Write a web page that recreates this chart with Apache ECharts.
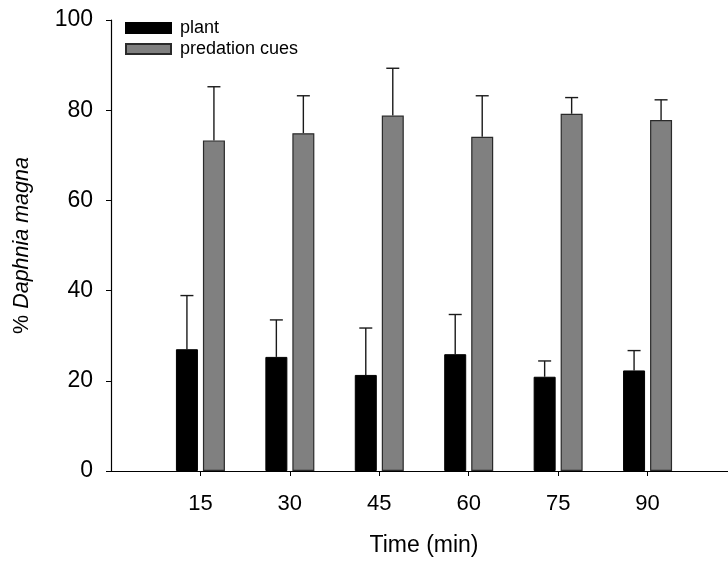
<!DOCTYPE html>
<html>
<head>
<meta charset="utf-8">
<script src="https://cdn.jsdelivr.net/npm/echarts@6/dist/echarts.min.js"></script>
<style>
  html, body { margin: 0; padding: 0; background: #fff; }
  #chart { width: 728px; height: 562px; }
</style>
</head>
<body>
<div id="chart"></div>
<script>
// Sampling times (min)
const times = [15, 30, 45, 60, 75, 90];
// Mean % of Daphnia magna on each side, with standard errors
const plantMean = [27.0, 25.3, 21.3, 25.9, 20.9, 22.3];
const plantErr  = [11.9, 8.2, 10.4, 8.8, 3.5, 4.4];
const cuesMean  = [73.3, 74.9, 78.8, 74.1, 79.2, 77.8];
const cuesErr   = [11.9, 8.3, 10.5, 9.1, 3.6, 4.5];
const yTicks = [0, 20, 40, 60, 80, 100];

const FONT = '"Liberation Sans", Arial, sans-serif';
const BAR_W = 22;
const GAP = 5;
const OFFSET = (BAR_W + GAP) / 2;

// Upper whisker with a cap, centred on each bar
function errorBars(means, errs, dx) {
  return {
    type: 'custom',
    silent: true,
    z: 1,
    data: times.map((t, i) => [t, means[i], errs[i]]),
    renderItem: function (params, api) {
      const x = api.coord([api.value(0), 0])[0] + dx;
      const yTop = api.coord([0, api.value(1)])[1];
      const yHi = api.coord([0, api.value(1) + api.value(2)])[1];
      const style = { stroke: '#1a1a1a', lineWidth: 1.4 };
      return {
        type: 'group',
        children: [
          { type: 'line', shape: { x1: x, y1: yTop, x2: x, y2: yHi }, style: style },
          { type: 'line', shape: { x1: x - 6.5, y1: yHi, x2: x + 6.5, y2: yHi }, style: style }
        ]
      };
    }
  };
}

const chart = echarts.init(document.getElementById('chart'), null, { renderer: 'canvas' });
chart.setOption({
  animation: false,
  backgroundColor: '#fff',
  textStyle: { fontFamily: FONT, color: '#000' },
  grid: { left: 111, right: -9, top: 20, bottom: 91, outerBoundsMode: 'none', containLabel: false },
  legend: {
    orient: 'vertical',
    left: 125,
    top: 19,
    padding: 0,
    icon: 'rect',
    itemWidth: 45,
    itemHeight: 10,
    itemGap: 3,
    textStyle: { fontFamily: FONT, fontSize: 18, color: '#000', padding: [0, 0, 0, 4] },
    data: ['plant', 'predation cues']
  },
  xAxis: {
    type: 'value',
    min: 0,
    max: 105,
    interval: 15,
    name: 'Time (min)',
    nameLocation: 'middle',
    nameGap: 63,
    nameTextStyle: { fontFamily: FONT, fontSize: 23, color: '#000' },
    splitLine: { show: false },
    axisLine: { show: true, onZero: false, lineStyle: { color: '#000', width: 1.2 } },
    axisTick: { show: true, length: 5, lineStyle: { color: '#000' }, customValues: times },
    axisLabel: { customValues: times, margin: 22, fontFamily: FONT, fontSize: 22, color: '#000' }
  },
  yAxis: {
    type: 'value',
    min: 0,
    max: 100,
    interval: 20,
    name: '{n|% }{i|Daphnia magna}',
    nameLocation: 'middle',
    nameRotate: 90,
    nameGap: 78,
    nameTextStyle: {
      rich: {
        n: { fontFamily: FONT, fontSize: 21.5, color: '#000' },
        i: { fontFamily: FONT, fontSize: 21.5, fontStyle: 'italic', color: '#000' }
      }
    },
    splitLine: { show: false },
    axisLine: { show: true, lineStyle: { color: '#000', width: 1.2 } },
    axisTick: { show: true, length: 5, lineStyle: { color: '#000' } },
    axisLabel: { margin: 18, fontFamily: FONT, fontSize: 23, color: '#000',
      formatter: v => yTicks.indexOf(v) >= 0 ? String(v) : '' }
  },
  series: [
    errorBars(plantMean, plantErr, -OFFSET),
    errorBars(cuesMean, cuesErr, OFFSET),
    {
      name: 'plant',
      type: 'bar',
      z: 2,
      barWidth: BAR_W,
      barGap: (GAP / BAR_W * 100).toFixed(1) + '%',
      itemStyle: { color: '#000', borderColor: '#000', borderWidth: 1 },
      data: times.map((t, i) => [t, plantMean[i]])
    },
    {
      name: 'predation cues',
      type: 'bar',
      z: 2,
      barWidth: BAR_W,
      barGap: (GAP / BAR_W * 100).toFixed(1) + '%',
      itemStyle: { color: '#808080', borderColor: '#2a2a2a', borderWidth: 1.2 },
      data: times.map((t, i) => [t, cuesMean[i]])
    }
  ]
});
</script>
</body>
</html>
